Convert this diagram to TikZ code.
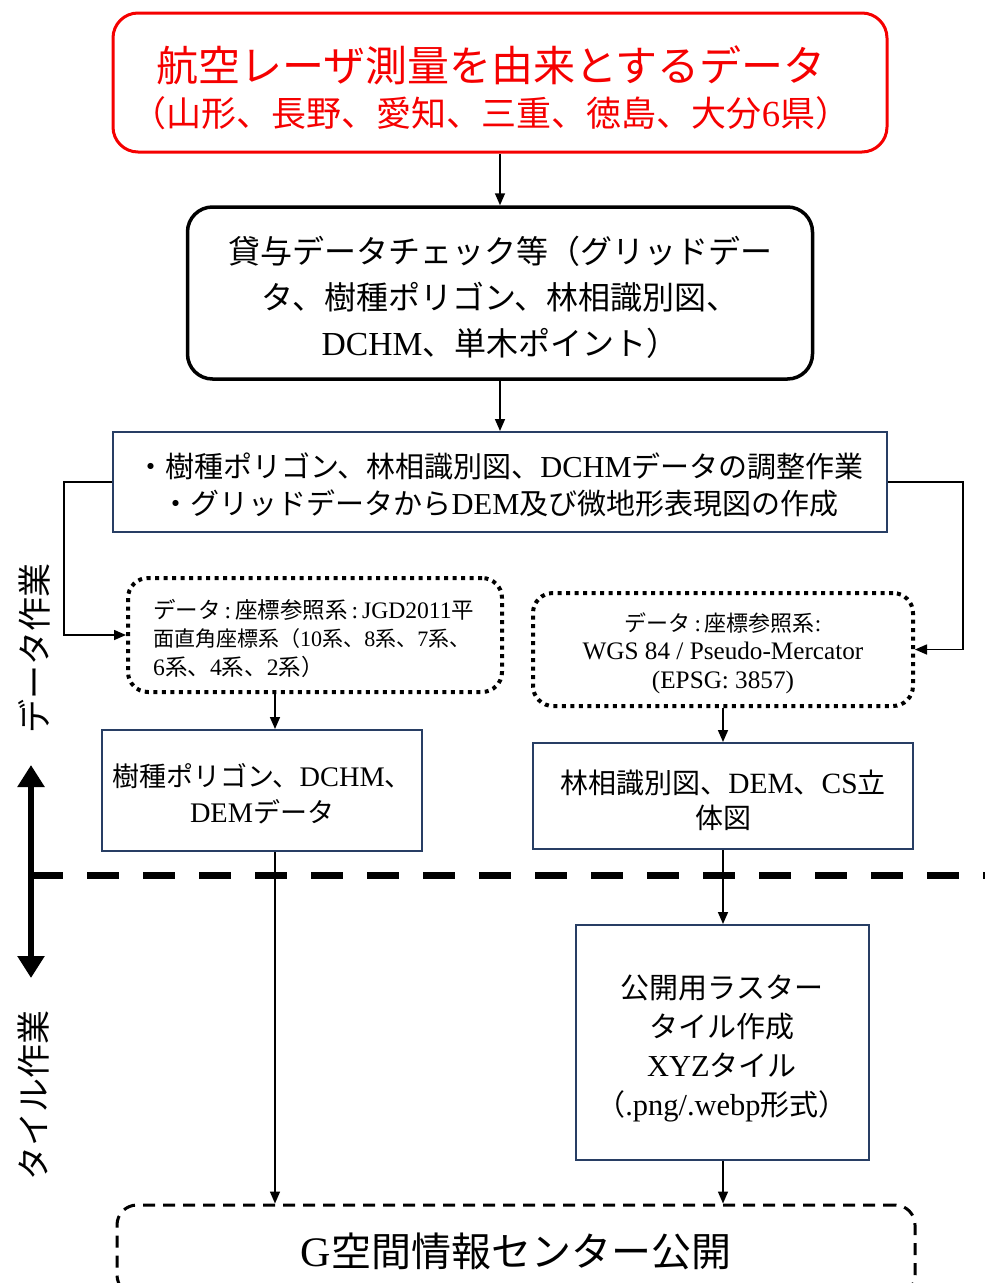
\documentclass[tikz,border=0pt]{standalone}
\usepackage{fontspec}
\setmainfont{Noto Sans CJK JP}
\newfontfamily\latf[Scale=1.05]{Liberation Serif}
\newcommand\latn[1]{{\latf #1}}
\usetikzlibrary{arrows.meta,calc}
\definecolor{boxnavy}{RGB}{40,62,100}
\definecolor{boxred}{RGB}{245,0,0}
\tikzset{
  arr/.style={-{Triangle[length=12pt,width=10pt]}, line width=1.6pt},
  redbox/.style={draw=boxred, line width=3pt, rounded corners=25pt, inner sep=0pt},
  blackbox/.style={draw=black, line width=3.5pt, rounded corners=25pt, inner sep=0pt},
  navybox/.style={draw=boxnavy, line width=2pt, inner sep=0pt},
  dotbox/.style={draw=black, line width=4pt, dash pattern=on 4pt off 4.5pt, rounded corners=20pt, inner sep=0pt},
  pubbox/.style={draw=black, line width=3pt, dash pattern=on 12pt off 8pt, rounded corners=20pt, inner sep=0pt},
  txt/.style={inner sep=0pt, align=center},
  sidelabel/.style={rotate=90, font=\fontsize{34}{36}\selectfont, inner sep=0pt},
}
\begin{document}
\begin{tikzpicture}[x=1pt,y=-1pt]
\useasboundingbox (0,0) rectangle (985,1283);

% boxes
\node[redbox, minimum width=774pt, minimum height=139pt] (src) at (500,82.5) {};
\node[blackbox, minimum width=625pt, minimum height=172pt] (chk) at (500,293) {};
\node[navybox, minimum width=774pt, minimum height=100pt] (adj) at (500,482) {};
\node[dotbox, minimum width=374pt, minimum height=114pt] (dot1) at (315,635) {};
\node[dotbox, minimum width=380pt, minimum height=113pt] (dot2) at (723,649.5) {};
\node[navybox, minimum width=320pt, minimum height=121pt] (sp) at (262,790.5) {};
\node[navybox, minimum width=380pt, minimum height=106pt] (fr) at (723,796) {};
\node[navybox, minimum width=293pt, minimum height=235pt] (tile) at (722,1042.5) {};
\node[pubbox, minimum width=798pt, minimum height=90pt] (pub) at (516,1250) {};

% texts
\node[txt, text=boxred, font=\fontsize{42}{45}\selectfont] (srcT) at ($(src)+(-9,5)$)
  {航空レーザ測量を由来とするデータ\\{\fontsize{35}{45}\selectfont （山形、長野、愛知、三重、徳島、大分\latn{6}県）}};
\node[txt, font=\fontsize{32}{46}\selectfont] (chkT) at ($(chk)+(0,4)$)
  {貸与データチェック等（グリッドデー\\タ、樹種ポリゴン、林相識別図、\\\latn{DCHM}、単木ポイント）};
\node[txt, font=\fontsize{29}{37}\selectfont] (adjT) at ($(adj)+(0,3)$)
  {・樹種ポリゴン、林相識別図、\latn{DCHM}データの調整作業\\・グリッドデータから\latn{DEM}及び微地形表現図の作成};
\node[txt, align=left, anchor=west, font=\fontsize{22.5}{28.5}\selectfont] (dot1T) at ($(dot1.west)+(27,3)$)
  {データ\latn{\,:\,}座標参照系\latn{\,:\,JGD2011}平\\{\fontsize{21}{28.5}\selectfont 面直角座標系（\latn{10}系、\latn{8}系、\latn{7}系、}\\\latn{6}系、\latn{4}系、\latn{2}系）};
\node[txt, font=\fontsize{22}{28.5}\selectfont] (dot2T) at ($(dot2)+(0,3.5)$)
  {データ\latn{\,:\,}座標参照系\latn{:}\\{\fontsize{24}{28.5}\selectfont\latn{WGS 84 / Pseudo-Mercator}}\\{\fontsize{24}{28.5}\selectfont\latn{(EPSG: 3857)}}};
\node[txt, font=\fontsize{27}{36}\selectfont] (spT) at ($(sp)+(0,3)$)
  {樹種ポリゴン、\latn{DCHM}、\\\latn{DEM}データ};
\node[txt, font=\fontsize{28}{35}\selectfont] (frT) at ($(fr)+(0,4)$)
  {林相識別図、\latn{DEM}、\latn{CS}立\\体図};
\node[txt, font=\fontsize{29}{39}\selectfont] (tileT) at ($(tile)+(0,6)$)
  {公開用ラスター\\タイル作成\\\latn{XYZ}タイル\\（\latn{.png/.webp}形式）};
\node[txt, font=\fontsize{40}{44}\selectfont] (pubT) at ($(pub)+(0,1)$)
  {\latn{G}空間情報センター公開};

% connectors
\draw[arr] (src.south) -- (chk.north);
\draw[arr] (chk.south) -- (adj.north);
\draw[arr] (adj.west) -- ++(-48,0) |- (dot1.west);
\draw[arr] (adj.east) -- ++(75,0) |- (dot2.east);
\coordinate (xl) at (275,0);
\draw[arr] (xl |- dot1.south) -- (xl |- sp.north);
\draw[arr] (xl |- sp.south) -- (xl |- pub.north);
\draw[arr] (dot2.south) -- (dot2.south |- fr.north);
\draw[arr] (dot2.south |- fr.south) -- (dot2.south |- tile.north);
\draw[arr] (dot2.south |- tile.south) -- (dot2.south |- pub.north);

% separator and phase arrow
\coordinate (dl) at (31,875);
\coordinate (dr) at (985,875);
\draw[line width=7pt, dash pattern=on 32pt off 24pt] (dl) -- (dr);
\coordinate (va) at (31,765);
\coordinate (vb) at (31,978);
\draw[line width=6pt, {Triangle[length=22pt,width=26pt]}-{Triangle[length=22pt,width=26pt]}] (va) -- (vb);

% side labels
\node[sidelabel] (lab1) at (34,648) {データ作業};
\node[sidelabel] (lab2) at (34,1095) {タイル作業};
\end{tikzpicture}
\end{document}
